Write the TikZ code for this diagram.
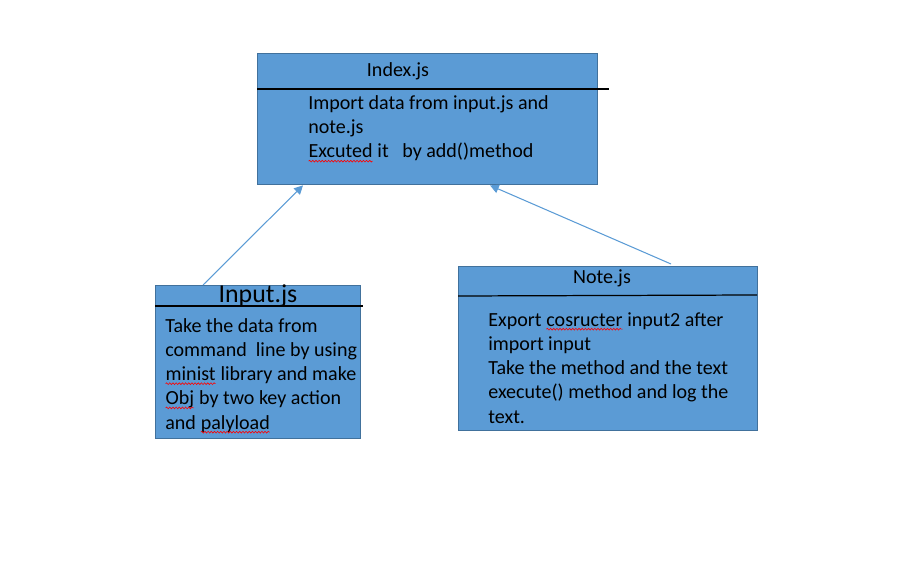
\documentclass[tikz,border=0pt]{standalone}
\usepackage{fontspec}
\setmainfont{Carlito}
\usetikzlibrary{arrows.meta,calc,decorations.pathmorphing}
\definecolor{boxblue}{HTML}{5B9BD5}
\definecolor{boxedge}{HTML}{41719C}
\newcommand{\typo}[1]{\tikz[baseline=(w.base)]{\node[inner sep=0pt, outer sep=0pt] (w) {#1};
  \draw[red, line width=0.35pt, decorate, decoration={snake, amplitude=0.5pt, segment length=1.8pt}]
    ([yshift=-1.8pt]w.base west) -- ([yshift=-1.8pt]w.base east);}}

\begin{document}
\begin{tikzpicture}[x=0.02cm, y=-0.02cm,
    class box/.style={draw=boxedge, fill=boxblue, line width=0.8pt, anchor=north west, inner sep=0pt},
    body text/.style={anchor=base west, align=left, inner sep=0pt, font=\fontsize{11.4}{13.8}\selectfont},
    title text/.style={anchor=base, inner sep=0pt, font=\fontsize{11.4}{13.8}\selectfont},
    divider/.style={black, line width=0.7pt},
    link/.style={boxblue, line width=0.6pt, -{Triangle[length=5pt,width=5pt]}}]

  \useasboundingbox (0,0) rectangle (916,577);

  % class boxes
  \node[class box, minimum width=6.8cm, minimum height=2.62cm] (index) at (257,53) {};
  \node[class box, minimum width=4.1cm, minimum height=3.06cm] (input) at (155,285) {};
  \node[class box, minimum width=5.98cm, minimum height=3.28cm] (note) at (458,266) {};

  % dividers
  \draw[divider] ($(index.north west)+(0,36)$) -- ++(352,0);
  \draw[divider] ($(input.north west)+(0,21)$) -- ++(208,0);
  \draw[divider] ($(note.north west)+(0,30)$) -- ++(299,-1);

  % titles
  \node[title text] (indextitle) at (398,77) {Index.js};
  \node[title text, font=\fontsize{14.7}{17}\selectfont] (inputtitle) at (258,303) {Input.js};
  \node[title text] (notetitle) at (602,284) {Note.js};

  % bodies (base = last line)
  \node[body text] (indexbody) at (308,158) {Import data from input.js and\\note.js\\\typo{Excuted} it \ \ by add()method};
  \node[body text] (inputbody) at (165,429) {Take the data from\\command \ line by using\\\typo{minist} library and make\\\typo{Obj} by two key action\\and \typo{palyload}};
  \node[body text] (notebody) at (488,423) {Export \typo{cosructer} input2 after\\import input\\Take the method and the text\\execute() method and log the\\text.};

  % links
  \draw[link] ($(input.north west)+(48,0)$) -- ($(index.south west)+(46,0)$);
  \draw[link] ($(note.north west)+(213,-2)$) -- ($(index.south west)+(233,0)$);
\end{tikzpicture}
\end{document}
